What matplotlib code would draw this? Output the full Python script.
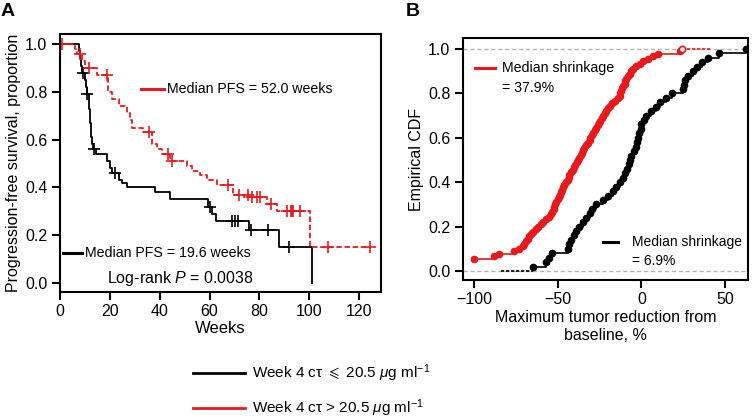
import numpy as np
import matplotlib
matplotlib.use('Agg')
import matplotlib.pyplot as plt
from matplotlib.lines import Line2D

plt.rcParams['font.family'] = ['Liberation Sans', 'DejaVu Sans', 'STIXGeneral']
plt.rcParams['font.size'] = 11.5
plt.rcParams['mathtext.fontset'] = 'custom'
plt.rcParams['mathtext.rm'] = 'Liberation Sans'
plt.rcParams['mathtext.it'] = 'Liberation Sans:italic'
plt.rcParams['mathtext.fallback'] = 'stix'

RED = '#e8191c'

# ---- panel A: Kaplan-Meier steps (time, survival after step) ----
blk_t = [0, 7.5, 8.0, 8.5, 9.0, 10.0, 10.5, 11.0, 11.5, 11.8, 12.0, 12.2, 12.4, 12.6, 12.8,
         13.2, 14.5, 19.0, 20.0, 21.0, 23.5, 25, 27, 38, 44, 59.5, 61, 62.5, 76, 88, 101]
blk_s = [1.0, 0.97, 0.94, 0.91, 0.88, 0.85, 0.82, 0.79, 0.76, 0.73, 0.70, 0.67, 0.64, 0.61, 0.58,
         0.56, 0.54, 0.51, 0.48, 0.46, 0.43, 0.42, 0.40, 0.38, 0.35, 0.32, 0.29, 0.26, 0.22, 0.15, 0.0]
blk_cens_t = [9.2, 11.0, 13.7, 22, 60.2, 69, 70.3, 71.5, 76.5, 83.6, 92]
blk_cens_s = [0.88, 0.79, 0.56, 0.46, 0.32, 0.26, 0.26, 0.26, 0.22, 0.22, 0.15]

red_t = [0, 6, 7, 8.8, 10, 14.8, 19.3, 21, 23.5, 27, 28, 29, 33.5, 37, 39, 41, 44, 51, 53,
         56, 59, 63, 69.5, 74, 83, 87, 100.4, 124.5]
red_s = [1.0, 0.98, 0.96, 0.93, 0.90, 0.87, 0.80, 0.77, 0.74, 0.71, 0.68, 0.65, 0.63, 0.58, 0.56,
         0.54, 0.51, 0.49, 0.47, 0.45, 0.43, 0.41, 0.37, 0.36, 0.33, 0.30, 0.15, 0.15]
red_cens_t = [0.8, 8, 11.7, 18.8, 35.7, 43.5, 44.8, 67.5, 72, 75.5, 77, 79, 80.3, 84.8,
              91, 92.5, 93, 93.6, 96.4, 107.7, 124.5]
red_cens_s = [1.0, 0.96, 0.90, 0.87, 0.63, 0.54, 0.51, 0.41, 0.37, 0.37, 0.36, 0.36, 0.36, 0.33,
              0.30, 0.30, 0.30, 0.30, 0.30, 0.15, 0.15]

# ---- panel B: tumour reduction values (sorted) ----
blk_red = [-64.6, -57, -55, -53.5, -44, -43, -42, -40.5, -39, -37.5, -35, -33, -31, -29.5, -27,
           -23, -20, -17, -15, -12.5, -11, -9.5, -8.5, -7.5, -6.8, -6, -4.5, -3.5, -2.8, -1.8,
           -1.2, -0.5, 0, 1.5, 3, 6, 8.5, 11, 14.5, 18.5, 25, 25.5, 26, 28, 31, 33.5, 36, 39.5,
           46.6, 62.8]
red_red = [-100, -100, -100, -100, -100, -88, -85, -76, -73, -71, -70, -69, -68, -67, -66,
           -64.5, -63, -62, -60, -58.5, -57, -55, -54, -53.5, -52.5, -52, -51.5, -51, -50, -49,
           -48.5, -48, -47.5, -47, -46, -45, -44, -43.5, -43, -42, -41, -40.5, -39.5, -38.5,
           -37.9, -37, -36, -35.5, -35, -34, -33, -32, -31, -30.5, -29.5, -29, -28, -27, -26,
           -25.5, -24.5, -23.5, -23, -22, -21, -20, -19, -17.5, -16, -14, -13, -12.5, -12,
           -11.5, -11, -10, -9.5, -9, -8, -7, -6, -5, -3, -1, 1, 4, 7, 10, 23, 24.5]

W, H = 754, 418
fig = plt.figure(figsize=(W / 100, H / 100), dpi=100)


def fx(x):
    return x / W


def fy(y):
    return 1 - y / H


def ecdf(vals):
    v = np.sort(np.asarray(vals, dtype=float))
    xs, counts = np.unique(v, return_counts=True)
    return xs, np.cumsum(counts) / len(v)


def style(ax):
    for s in ax.spines.values():
        s.set_linewidth(1.5)
    ax.tick_params(direction='out', length=6, width=1.5, labelsize=11.5, pad=3)


# ================= A =================
axA = fig.add_axes([fx(60), fy(292), fx(321), 258 / H])
style(axA)
axA.step(blk_t, blk_s, where='post', color='black', lw=1.3)
axA.plot(blk_cens_t, blk_cens_s, '+', color='black', ms=8, mew=1.2)
axA.step(red_t, red_s, where='post', color=RED, lw=1.3, linestyle=(0, (3, 1.5)))
axA.plot(red_cens_t, red_cens_s, '+', color=RED, ms=8, mew=1.2)
axA.set_xlim(0, 128.8)
axA.set_ylim(-0.0377, 1.0418)
axA.set_xticks(np.arange(0, 121, 20))
axA.set_yticks(np.arange(0, 1.01, 0.2))
axA.set_yticklabels(['%.1f' % v for v in np.arange(0, 1.01, 0.2)])
axA.set_xlabel('Weeks', labelpad=1, fontsize=12)
axA.set_ylabel('Progression-free survival, proportion', labelpad=3, fontsize=11.5)

fig.add_artist(Line2D([fx(141), fx(164)], [fy(89), fy(89)], color=RED, lw=2.2))
fig.text(fx(167), fy(89), 'Median PFS = 52.0 weeks', va='center', fontsize=10.2)
fig.add_artist(Line2D([fx(63), fx(82)], [fy(253), fy(253)], color='black', lw=2.2))
fig.text(fx(85), fy(253), 'Median PFS = 19.6 weeks', va='center', fontsize=10.2)
fig.text(fx(107), fy(279), 'Log-rank $P$ = 0.0038', va='center', fontsize=11.5)

# ================= B =================
axB = fig.add_axes([fx(463), fy(280), fx(285), 242 / H])
style(axB)
axB.axhline(0, color='#b3b3b3', lw=1, linestyle=(0, (3, 2)), zorder=1)
axB.axhline(1, color='#b3b3b3', lw=1, linestyle=(0, (3, 2)), zorder=1)

bx, by = ecdf(blk_red)
axB.plot([-84, bx[0]], [0, 0], color='black', lw=1.2, linestyle=(0, (2, 1)))
axB.step(bx, by, where='post', color='black', lw=1.2)
axB.plot(bx, by, 'o', color='black', ms=4.5)

rx, ry = ecdf(red_red)
axB.step(rx, ry, where='post', color=RED, lw=1.2)
axB.plot([rx[-1], 42], [1, 1], color=RED, lw=1.2, linestyle=(0, (2, 1)))
axB.plot(rx[:-1], ry[:-1], 'o', color=RED, ms=4.5)
axB.plot(rx[-1:], ry[-1:], 'o', mfc='white', mec=RED, ms=4.5, mew=1.2)

axB.set_xlim(-106.6, 63.7)
axB.set_ylim(-0.0405, 1.0495)
axB.set_xticks([-100, -50, 0, 50])
axB.set_xticklabels(['\u2212100', '\u221250', '0', '50'])
axB.set_yticks(np.arange(0, 1.01, 0.2))
axB.set_yticklabels(['%.1f' % v for v in np.arange(0, 1.01, 0.2)])
axB.set_ylabel('Empirical CDF', labelpad=3, fontsize=11.5)
axB.set_xlabel('Maximum tumor reduction from\nbaseline, %', labelpad=2, fontsize=11.5,
               linespacing=1.25)

fig.add_artist(Line2D([fx(475), fx(495)], [fy(68), fy(68)], color=RED, lw=2.2))
fig.text(fx(502), fy(68), 'Median shrinkage', va='center', fontsize=10.2)
fig.text(fx(502), fy(88), '= 37.9%', va='center', fontsize=10.2)
fig.add_artist(Line2D([fx(603), fx(618)], [fy(242), fy(242)], color='black', lw=2.2))
fig.text(fx(632), fy(242), 'Median shrinkage', va='center', fontsize=10)
fig.text(fx(632), fy(261), '= 6.9%', va='center', fontsize=10)

# panel letters
fig.text(fx(1), fy(11), 'A', fontsize=14, fontweight='bold', va='center')
fig.text(fx(406), fy(11), 'B', fontsize=14, fontweight='bold', va='center')

# bottom legend
fig.add_artist(Line2D([fx(193), fx(245)], [fy(373), fy(373)], color='black', lw=2))
fig.text(fx(252), fy(373), 'Week 4 c\u03c4 $\\leqslant$ 20.5 $\\mu$g ml$^{-1}$', va='center', fontsize=11)
fig.add_artist(Line2D([fx(193), fx(245)], [fy(408), fy(408)], color=RED, lw=2))
fig.text(fx(252), fy(408), 'Week 4 c\u03c4 > 20.5 $\\mu$g ml$^{-1}$', va='center', fontsize=11)

plt.savefig('out.png', dpi=100)
